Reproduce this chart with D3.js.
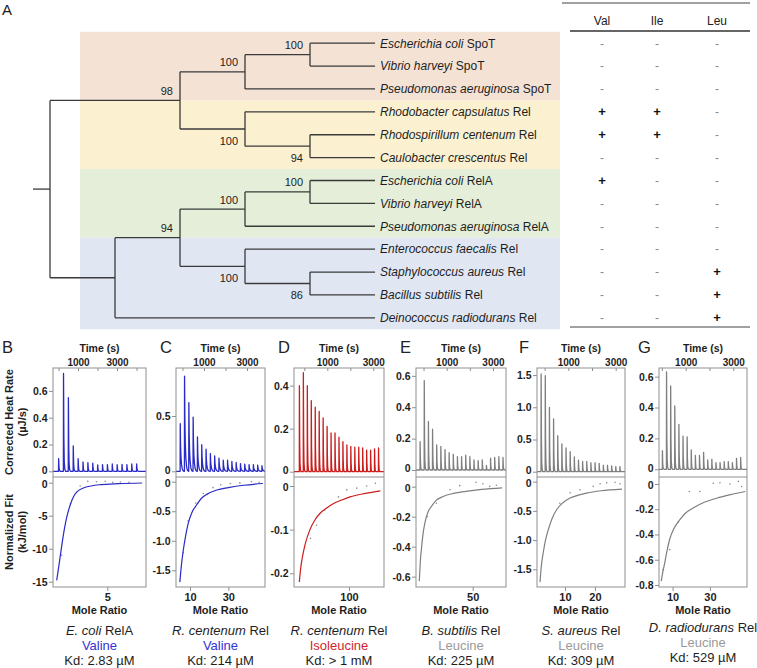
<!DOCTYPE html>
<html><head><meta charset="utf-8">
<script src="https://cdn.jsdelivr.net/npm/d3@7"></script>
<style>
html,body{margin:0;padding:0;background:#fff;}
svg{display:block;font-family:"Liberation Sans",Arial,Helvetica,sans-serif;}
</style></head><body>
<svg id="chart" width="757" height="668"></svg>
<script>
// ================= Panel A data =================
const species = ["Escherichia coli","Vibrio harveyi","Pseudomonas aeruginosa","Rhodobacter capsulatus","Rhodospirillum centenum","Caulobacter crescentus","Escherichia coli","Vibrio harveyi","Pseudomonas aeruginosa","Enterococcus faecalis","Staphylococcus aureus","Bacillus subtilis","Deinococcus radiodurans"];
const proteins = ["SpoT","SpoT","SpoT","Rel","Rel","Rel","RelA","RelA","RelA","Rel","Rel","Rel","Rel"];
const cladeOf = [0,0,0,1,1,1,2,2,2,3,3,3,3];
const treeNewick = "((((0:1,1:1)100:1,2:2)100:1,(3:2,(4:1,5:1)94:1)100:1)98:2,((((6:1,7:1)100:1,8:2)100:1,(9:2,(10:1,11:1)86:1)100:1)94:1,12:4):1);";
const tableCols = ["Val","Ile","Leu"];
const valBinding = ["-","-","-","+","+","-","+","-","-","-","-","-","-"];
const ileBinding = ["-","-","-","+","+","-","-","-","-","-","-","-","-"];
const leuBinding = ["-","-","-","-","-","-","-","-","-","-","+","+","+"];

// ================= Panels B-G data =================
const panelLetters = ["B","C","D","E","F","G"];
const captionSpecies = ["E. coli","R. centenum","R. centenum","B. subtilis","S. aureus","D. radiodurans"];
const captionProtein = ["RelA","Rel","Rel","Rel","Rel","Rel"];
const ligands = ["Valine","Valine","Isoleucine","Leucine","Leucine","Leucine"];
const kdLabels = ["Kd: 2.83 µM","Kd: 214 µM","Kd: > 1 mM","Kd: 225 µM","Kd: 309 µM","Kd: 529 µM"];

// injection peak heights (µJ/s)
const peaksB = [0.095,0.73,0.55,0.19,0.095,0.07,0.065,0.06,0.048,0.05,0.05,0.055,0.05,0.052,0.05,0.055,0.055];
const peaksC = [0.43,0.86,0.62,0.49,0.31,0.24,0.2,0.16,0.14,0.12,0.1,0.1,0.09,0.08,0.07,0.065,0.06,0.06,0.055,0.05];
const peaksD = [0.40,0.46,0.40,0.33,0.30,0.28,0.25,0.21,0.18,0.18,0.16,0.14,0.125,0.117,0.114,0.114,0.11,0.10,0.10,0.106,0.11];
const peaksE = [0.18,0.57,0.31,0.26,0.16,0.15,0.13,0.11,0.10,0.085,0.085,0.095,0.085,0.065,0.06,0.065,0.03,0.075,0.08,0.085,0.08];
const peaksF = [1.52,1.49,1.0,0.82,0.56,0.43,0.37,0.31,0.23,0.18,0.16,0.16,0.14,0.14,0.13,0.1,0.1,0.09,0.08,0.08];
const peaksG = [0.12,0.63,0.54,0.41,0.29,0.215,0.21,0.125,0.09,0.09,0.11,0.06,0.065,0.043,0.043,0.05,0.05,0.043,0.07,0.077];

// fitted binding curves [mole ratio, kJ/mol]
const fitB = [[0.34,-14.8],[0.55,-12.5],[0.8,-9.6],[1.05,-7],[1.3,-5],[1.6,-3.3],[1.9,-2.1],[2.2,-1.4],[2.8,-0.8],[3.5,-0.5],[4.4,-0.3],[6,-0.15],[8.2,-0.05]];
const fitC = [[4.7,-1.70],[5.5,-1.42],[6.5,-1.16],[7.7,-0.92],[9.1,-0.70],[11,-0.52],[13.5,-0.39],[16,-0.28],[19,-0.21],[24,-0.14],[30,-0.1],[38,-0.06],[48,-0.03]];
const fitD = [[9.7,-0.22],[12,-0.19],[15,-0.165],[20,-0.135],[29,-0.1],[38,-0.078],[47,-0.063],[60,-0.05],[72,-0.04],[87,-0.032],[102,-0.025],[130,-0.017],[157,-0.011]];
const fitE = [[2.9,-0.63],[3.8,-0.5],[5,-0.4],[6.3,-0.31],[7.9,-0.24],[10.5,-0.17],[13.8,-0.13],[18,-0.09],[24,-0.065],[33,-0.045],[44,-0.031],[58,-0.018],[76,-0.008]];
const fitF = [[1.67,-1.72],[2.1,-1.45],[2.8,-1.2],[3.5,-1.0],[4.4,-0.83],[5.7,-0.63],[7.2,-0.48],[9.3,-0.36],[11.7,-0.28],[14.5,-0.23],[17.2,-0.195],[22,-0.155],[29,-0.126]];
const fitG = [[3.9,-0.77],[4.7,-0.7],[5.7,-0.63],[7,-0.53],[8.4,-0.44],[10.8,-0.35],[13.8,-0.285],[17,-0.23],[21,-0.19],[27,-0.145],[33.6,-0.113],[41,-0.085],[49,-0.06]];

// measured integrated points
const dotsB = [[0.8,-11],[1.6,-3.2],[2.5,-0.5],[3.2,0.2],[4.0,0.15],[4.8,0.2],[5.5,0.05],[6.2,0.1],[7.0,0.05]];
const dotsC = [[6.5,-1.2],[9,-0.66],[13,-0.36],[17,-0.2],[22,-0.1],[26,-0.05],[31,-0.03],[36,-0.02],[42,0.0],[46,-0.01]];
const dotsD = [[30,-0.12],[41,-0.09],[56,-0.055],[81,-0.025],[96,-0.009],[114,-0.005],[132,0.0],[148,0.006]];
const dotsE = [[10,-0.2],[18,-0.11],[30,-0.02],[38.6,0.007],[53,0.03],[59,0.02],[65,0.002],[71,0.01]];
const dotsF = [[8.3,-0.37],[11.7,-0.19],[15,-0.14],[19.4,-0.08],[21.7,-0.035],[23.9,-0.02],[26.7,-0.01],[28.3,-0.035]];
const dotsG = [[4.8,-0.68],[8.4,-0.52],[13,-0.3],[19,-0.06],[24.6,-0.06],[31.8,0.005],[35.4,0.01],[40.8,0.0],[45.3,0.02],[47,-0.02]];

const heatTicks = [[0,0.2,0.4,0.6],[0,0.5],[0,0.2,0.4],[0,0.2,0.4,0.6],[0,0.5,1.0,1.5],[0,0.2,0.4,0.6]];
const fitTicks = [[0,-5,-10,-15],[0,-0.5,-1.0,-1.5],[0,-0.1,-0.2],[0,-0.2,-0.4,-0.6],[0,-0.5,-1.0,-1.5],[0,-0.2,-0.4,-0.6,-0.8]];
const ratioTicks = [[5],[10,30],[100],[50],[10,20],[10,30]];
const timeTicks = [0,1000,2000,3000,4000];
const timeLabels = [1000,3000];

// ================= layout / style (not data) =================
const frames = [
  {x0:53, x1:146, lx:2,   tDom:[-282,4487], t0:0,    dt:250, hDom:[-0.0425,0.771], fDom:[-15.8,0.86],  rDom:[0,8.56],    col:"#2a2ac6", tcol:"#3434cf", slow:false, fitDec:0, capDy:0},
  {x0:176,x1:265, lx:160, tDom:[-302,3837], t0:-110, dt:200, hDom:[-0.0515,0.934], fDom:[-1.783,0.08], rDom:[2.7,49.1],  col:"#2a2ac6", tcol:"#3434cf", slow:true,  fitDec:1, capDy:0},
  {x0:294,x1:384, lx:278, tDom:[-448,3465], t0:-218, dt:172, hDom:[-0.0247,0.482], fDom:[-0.2314,0.0206], rDom:[0,163.6], col:"#cc1c1c", tcol:"#d21f2c", slow:false, fitDec:1, capDy:0},
  {x0:416,x1:506, lx:400, tDom:[-326,3562], t0:-153, dt:179, hDom:[-0.0446,0.65],  fDom:[-0.669,0.0647], rDom:[0,79.4],  col:"#7f7f7f", tcol:"#9a9a9a", slow:false, fitDec:1, capDy:0},
  {x0:537,x1:625, lx:519, tDom:[-321,3392], t0:-152, dt:175, hDom:[-0.082,1.61],   fDom:[-1.803,0.08], rDom:[0.67,30],   col:"#7f7f7f", tcol:"#9a9a9a", slow:false, fitDec:1, capDy:0},
  {x0:659,x1:747, lx:638, tDom:[-122,3576], t0:17,   dt:173, hDom:[-0.05,0.656],   fDom:[-0.816,0.055], rDom:[2.7,49.9], col:"#7f7f7f", tcol:"#9a9a9a", slow:false, fitDec:1, capDy:-3}
];
const peaksAll = [peaksB,peaksC,peaksD,peaksE,peaksF,peaksG];
const fitsAll = [fitB,fitC,fitD,fitE,fitF,fitG];
const dotsAll = [dotsB,dotsC,dotsD,dotsE,dotsF,dotsG];
const tmplFast = [[0,0],[0.03,1],[0.1,0.35],[0.18,0.1],[0.3,0.02],[0.45,0]];
const tmplSlow = [[0,0],[0.03,1],[0.1,0.55],[0.2,0.3],[0.33,0.14],[0.5,0.05],[0.7,0.01],[0.95,0]];

const svg = d3.select("#chart");
svg.append("rect").attr("width",757).attr("height",668).attr("fill","#fff");

// ================= Panel A =================
function parseNewick(s){
  let i=0;
  function node(){
    const n={children:[]};
    if(s[i]==='('){
      i++; n.children.push(node());
      while(s[i]===','){ i++; n.children.push(node()); }
      i++;
    }
    let name='';
    while(i<s.length && !':,);'.includes(s[i])) name+=s[i++];
    if(s[i]===':'){ i++; let l=''; while(i<s.length && !',);'.includes(s[i])) l+=s[i++]; n.len=+l; }
    if(!n.children.length){ delete n.children; n.leaf=+name; } else if(name) n.support=name;
    return n;
  }
  return node();
}
const root = d3.hierarchy(parseNewick(treeNewick));
const leafY = d3.scaleLinear().domain([0,12]).range([43.2,317.8]);
const uScale = d3.scaleLinear().domain([0,5]).range([50,375]);
root.each(d => { d.u = d.parent ? d.parent.u + d.data.len : 0; });
root.eachAfter(d => {
  d.px = uScale(d.u);
  d.py = d.children ? (d.children[0].py + d.children[d.children.length-1].py)/2 : leafY(d.data.leaf);
});

svg.append("text").attr("x",2).attr("y",15).attr("font-size",15).attr("fill","#222").text("A");

const bandColors = ["#f4e2d5","#fbf1d1","#e4eed9","#e0e7f3"];
const half = (leafY(1)-leafY(0))/2;
const gA = svg.append("g");
d3.range(4).forEach(k => {
  const idx = cladeOf.map((c,i)=>c===k?i:-1).filter(i=>i>=0);
  const y0 = leafY(d3.min(idx)) - half, y1 = leafY(d3.max(idx)) + half;
  gA.append("rect").attr("x",80).attr("y",y0).attr("width",480).attr("height",y1-y0).attr("fill",bandColors[k]);
});

const gTree = svg.append("g").attr("stroke","#3a3a3a").attr("stroke-width",1.3).attr("fill","none");
gTree.append("line").attr("x1",33).attr("x2",root.px).attr("y1",root.py).attr("y2",root.py);
root.descendants().forEach(d => {
  if(d.children){
    gTree.append("line").attr("x1",d.px).attr("x2",d.px)
      .attr("y1",d.children[0].py).attr("y2",d.children[d.children.length-1].py);
  }
  if(d.parent){
    gTree.append("line").attr("x1",d.parent.px).attr("x2",d.px).attr("y1",d.py).attr("y2",d.py);
  }
});
root.descendants().filter(d => d.data.support).forEach(d => {
  const first = d.parent.children[0] === d;
  svg.append("text").attr("x",d.px-7).attr("y", first ? d.py-5.5 : d.py+15.5)
    .attr("text-anchor","end").attr("font-size",11).attr("fill","#222").text(d.data.support);
});

const leafG = svg.append("g").attr("font-size",12).attr("fill","#1e1e1e");
species.forEach((s,i) => {
  const t = leafG.append("text").attr("x",380).attr("y",leafY(i)+4.3);
  t.append("tspan").attr("font-style","italic").text(s);
  t.append("tspan").text(" "+proteins[i]);
});

// table
const colX = [602,657,717];
const tbl = svg.append("g");
tbl.append("line").attr("x1",562).attr("x2",750).attr("y1",3).attr("y2",3).attr("stroke","#444").attr("stroke-width",1);
tbl.append("line").attr("x1",570).attr("x2",750).attr("y1",31).attr("y2",31).attr("stroke","#333").attr("stroke-width",1.4);
tbl.append("line").attr("x1",570).attr("x2",750).attr("y1",327).attr("y2",327).attr("stroke","#444").attr("stroke-width",1);
tableCols.forEach((c,j) => tbl.append("text").attr("x",colX[j]).attr("y",25).attr("text-anchor","middle")
  .attr("font-size",12).attr("fill","#222").text(c));
[valBinding,ileBinding,leuBinding].forEach((col,j) => {
  col.forEach((v,i) => {
    tbl.append("text").attr("x",colX[j]).attr("y",leafY(i)+4.3).attr("text-anchor","middle")
      .attr("font-size", v==="+"?13:12).attr("font-weight", v==="+"?"bold":"normal")
      .attr("fill", v==="+"?"#111":"#8a8a8a").text(v);
  });
});

// ================= Panels B-G =================
const TOP=368, MID=477, BOT=587;
const fmt = dec => v => v===0 ? "0" : (v<0?"-":"") + Math.abs(v).toFixed(dec);

frames.forEach((f,i) => {
  const g = svg.append("g");
  const tS = d3.scaleLinear().domain(f.tDom).range([f.x0,f.x1]);
  const hS = d3.scaleLinear().domain(f.hDom).range([MID,TOP]);
  const fS = d3.scaleLinear().domain(f.fDom).range([BOT,MID]);
  const rS = d3.scaleLinear().domain(f.rDom).range([f.x0,f.x1]);

  const clipId = "clip"+i;
  svg.append("clipPath").attr("id",clipId).append("rect")
    .attr("x",f.x0).attr("y",TOP).attr("width",f.x1-f.x0).attr("height",BOT-TOP);

  g.append("text").attr("x",f.lx).attr("y",353).attr("font-size",16.5).attr("fill","#222").text(panelLetters[i]);

  // thermogram
  const tmpl = f.slow ? tmplSlow : tmplFast;
  const pts = [[f.tDom[0],0]];
  peaksAll[i].forEach((h,k) => {
    const t = f.t0 + k*f.dt;
    tmpl.forEach(([o,r]) => pts.push([t + o*f.dt, h*r]));
  });
  pts.push([f.tDom[1],0]);
  g.append("path").attr("clip-path",`url(#${clipId})`)
    .attr("d", d3.line().x(d=>tS(d[0])).y(d=>hS(d[1]))(pts))
    .attr("fill","none").attr("stroke",f.col).attr("stroke-width",1.3).attr("stroke-linejoin","round");

  // fit
  g.append("g").attr("clip-path",`url(#${clipId})`).selectAll("circle").data(dotsAll[i]).join("circle")
    .attr("cx",d=>rS(d[0])).attr("cy",d=>fS(d[1])).attr("r",0.8).attr("fill","#8c8c8c");
  g.append("path").attr("clip-path",`url(#${clipId})`)
    .attr("d", d3.line().curve(d3.curveMonotoneX).x(d=>rS(d[0])).y(d=>fS(d[1]))(fitsAll[i]))
    .attr("fill","none").attr("stroke",f.col).attr("stroke-width",1.2);

  // frame
  g.append("rect").attr("x",f.x0).attr("y",TOP).attr("width",f.x1-f.x0).attr("height",BOT-TOP)
    .attr("fill","none").attr("stroke","#8f8f8f").attr("stroke-width",1);
  g.append("line").attr("x1",f.x0).attr("x2",f.x1).attr("y1",MID).attr("y2",MID).attr("stroke","#8f8f8f");

  const styleAxis = (sel, size) => {
    sel.select(".domain").remove();
    sel.selectAll(".tick line").attr("stroke","#8f8f8f");
    sel.selectAll(".tick text").attr("fill","#1e1e1e").attr("font-weight","bold").attr("font-size",size)
      .attr("font-family","'Liberation Sans',Arial,sans-serif");
  };
  const tAx = g.append("g").attr("transform",`translate(0,${TOP})`)
    .call(d3.axisTop(tS).tickValues(timeTicks.filter(v=>v>=f.tDom[0]&&v<=f.tDom[1]))
      .tickFormat(v => timeLabels.includes(v) ? String(v) : "").tickSize(-3).tickPadding(2));
  styleAxis(tAx,10);
  const hAx = g.append("g").attr("transform",`translate(${f.x0},0)`)
    .call(d3.axisLeft(hS).tickValues(heatTicks[i]).tickFormat(fmt(1)).tickSize(4).tickPadding(1.5));
  styleAxis(hAx,10.5);
  // keep the two "0" labels that meet at the divider apart
  hAx.selectAll(".tick").filter(v=>v===0).select("text").attr("y",-1.5);
  const fAx = g.append("g").attr("transform",`translate(${f.x0},0)`)
    .call(d3.axisLeft(fS).tickValues(fitTicks[i]).tickFormat(fmt(f.fitDec)).tickSize(4).tickPadding(1.5));
  styleAxis(fAx,10.5);
  fAx.selectAll(".tick").filter(v=>v===0).select("text").attr("y",1.5);
  const rAx = g.append("g").attr("transform",`translate(0,${BOT})`)
    .call(d3.axisBottom(rS).tickValues(ratioTicks[i]).tickFormat(fmt(0)).tickSize(4).tickPadding(2));
  styleAxis(rAx,11);

  const cx = (f.x0+f.x1)/2;
  g.append("text").attr("x",cx).attr("y",352).attr("text-anchor","middle").attr("font-weight","bold")
    .attr("font-size",10.5).attr("fill","#1e1e1e").text("Time (s)");
  g.append("text").attr("x",cx).attr("y",613.5).attr("text-anchor","middle").attr("font-weight","bold")
    .attr("font-size",11).attr("fill","#1e1e1e").text("Mole Ratio");

  const c1 = g.append("text").attr("x",cx).attr("y",635+f.capDy).attr("text-anchor","middle").attr("font-size",13).attr("fill","#1e1e1e");
  c1.append("tspan").attr("font-style","italic").text(captionSpecies[i]);
  c1.append("tspan").text(" "+captionProtein[i]);
  g.append("text").attr("x",cx).attr("y",650+f.capDy).attr("text-anchor","middle").attr("font-size",13)
    .attr("fill",f.tcol).text(ligands[i]);
  g.append("text").attr("x",cx).attr("y",665+f.capDy).attr("text-anchor","middle").attr("font-size",13)
    .attr("fill","#1e1e1e").text(kdLabels[i]);
});

const yt = (txt, x, y) => svg.append("text").attr("transform",`translate(${x},${y}) rotate(-90)`)
  .attr("text-anchor","middle").attr("font-weight","bold").attr("font-size",11).attr("fill","#1e1e1e").text(txt);
yt("Corrected Heat Rate", 13, 422);
yt("(µJ/s)", 26, 422);
yt("Normalized Fit", 13, 532);
yt("(kJ/mol)", 26, 532);
</script>
</body></html>
